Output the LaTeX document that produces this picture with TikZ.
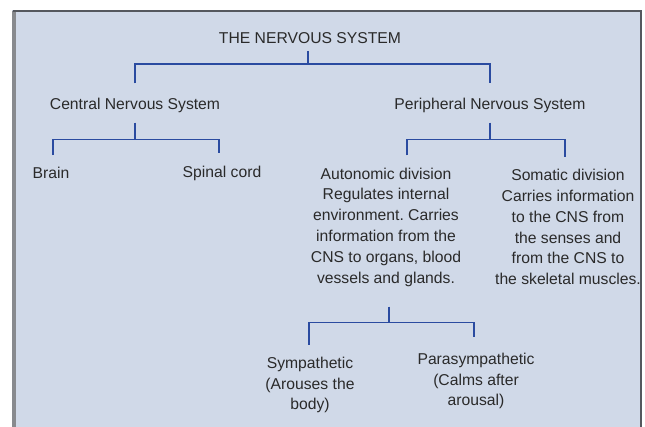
\documentclass[tikz,border=0pt]{standalone}
\usepackage{fontspec}
\setmainfont{Liberation Sans}
\frenchspacing
\usetikzlibrary{positioning,calc}
\definecolor{panel}{HTML}{D0D9E8}
\definecolor{wire}{HTML}{2A4BA0}
\definecolor{ink}{HTML}{2A2A2A}
\definecolor{rim}{HTML}{55585E}

\begin{document}
\begin{tikzpicture}[x=1pt,y=-1pt,
  txt/.style={font=\fontsize{15.7}{20.8}\selectfont,text=ink,align=center,inner sep=0pt},
  branch/.style={wire,line width=1.8pt}]
  \useasboundingbox (0,0) rectangle (645,427);
  % panel
  \fill[panel] (12,10) rectangle (642,427);
  \draw[rim!70,line width=3.5pt] (14,427) -- (14,11);
  \draw[rim,line width=1.6pt] (12.5,11) -- (641,11) -- (641,427);
  % top level
  \node[txt] (nerv) at (310,38) {THE NERVOUS SYSTEM};
  \node[txt] (cns) at (135,105) {Central Nervous System};
  \node[txt] (pns) at (490,105) {Peripheral Nervous System};
  % CNS parts
  \node[txt] (brain) at (51,173) {Brain};
  \node[txt] (spinal) at (222,173) {Spinal cord};
  % PNS parts
  \node[txt] (auto) at (386,227) {Autonomic division\\Regulates internal\\environment. Carries\\information from the\\CNS to organs, blood\\vessels and glands.};
  \node[txt] (soma) at (568,227) {Somatic division\\Carries information\\to the CNS from\\the senses and\\from the CNS to\\the skeletal muscles.};
  % autonomic parts
  \node[txt] (symp) at (310,385) {Sympathetic\\(Arouses the\\body)};
  \node[txt] (para) at (476,381) {Parasympathetic\\(Calms after\\arousal)};
  % bracket ends
  \coordinate[yshift=14pt] (cnsIn) at (cns.north);
  \coordinate[yshift=14pt] (pnsIn) at (pns.north);
  \coordinate[yshift=12pt] (brainIn) at (53,0 |- brain.north);
  \coordinate[yshift=12pt] (spinalIn) at (219,0 |- spinal.north);
  \coordinate[yshift=12pt] (autoIn) at (407,0 |- auto.north);
  \coordinate[yshift=12pt] (somaIn) at (565,0 |- soma.north);
  \coordinate[yshift=12pt] (sympIn) at (309,0 |- symp.north);
  \coordinate[yshift=16pt] (paraIn) at (474,0 |- para.north);
  % brackets
  \draw[branch] ([xshift=-2pt,yshift=-7pt]nerv.south) -- ++(0,13) coordinate (j1);
  \draw[branch] (cnsIn) |- (j1) -| (pnsIn);
  \draw[branch] ([yshift=-10pt]cns.south) -- ++(0,17) coordinate (j2);
  \draw[branch] (brainIn) |- (j2) -| (spinalIn);
  \draw[branch] ([yshift=-10pt]pns.south) -- ++(0,17) coordinate (j3);
  \draw[branch] (autoIn) |- (j3) -| (somaIn);
  \draw[branch] ([xshift=3pt,yshift=-20pt]auto.south) -- ++(0,16) coordinate (j4);
  \draw[branch] (sympIn) |- (j4) -| (paraIn);
\end{tikzpicture}
\end{document}
